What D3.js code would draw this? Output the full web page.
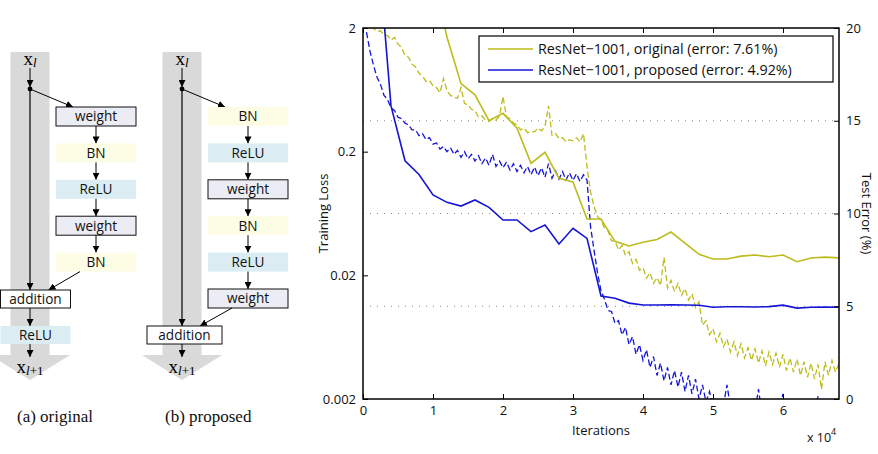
<!DOCTYPE html>
<html><head><meta charset="utf-8">
<script src="https://cdn.jsdelivr.net/npm/d3@7"></script>
<style>
html,body{margin:0;padding:0;background:#fff;}
svg{display:block;}
</style>
</head><body>
<svg id="c" width="878" height="454"></svg>
<script>
// ---------------- DATA ----------------
const seriesNames = ["ResNet\u22121001, original (error: 7.61%)", "ResNet\u22121001, proposed (error: 4.92%)"];
const xTicks = [0,1,2,3,4,5,6];
const xTickLabels = ["0","1","2","3","4","5","6"];
const lossTicks = [0.002,0.02,0.2,2];
const lossTickLabels = ["0.002","0.02","0.2","2"];
const errTicks = [0,5,10,15,20];
const errTickLabels = ["0","5","10","15","20"];

// test error (%) sampled every 0.2 x10^4 iterations
const testIters = [0.2,0.4,0.6,0.8,1.0,1.2,1.4,1.6,1.8,2.0,2.2,2.4,2.6,2.8,3.0,3.2,3.4,3.6,3.8,4.0,4.2,4.4,4.6,4.8,5.0,5.2,5.4,5.6,5.8,6.0,6.2,6.4,6.6,6.8];
const testErrOriginal = [55,40,32,27,23,19.5,17.0,16.4,15.0,15.4,14.6,12.7,13.3,11.9,11.7,9.7,9.7,8.5,8.25,8.45,8.6,9.0,8.4,7.8,7.55,7.55,7.7,7.76,7.67,7.76,7.4,7.6,7.65,7.61];
const testErrProposed = [25,15.8,12.84,12.1,11.0,10.6,10.4,10.73,10.33,9.65,9.65,9.02,9.38,8.36,9.2,8.66,5.55,5.43,5.17,5.07,5.07,5.08,5.07,5.05,4.95,4.97,4.97,4.96,4.98,5.06,4.9,4.95,4.96,4.95];

// training loss sampled every 0.05 x10^4 iterations starting at 0.05
const lossStart = 0.05, lossStep = 0.05;
const lossOriginal = [2.4,2.2,1.98,1.88,1.9,1.76,1.74,1.6,1.68,1.48,1.4,1.2,1.16,1.02,0.97,0.86,0.82,0.74,0.75,0.68,
0.66,0.6,0.78,0.62,0.57,0.55,0.54,0.66,0.49,0.48,0.44,0.43,0.38,0.39,0.36,0.35,0.37,0.36,0.39,0.56,
0.38,0.37,0.34,0.33,0.30,0.31,0.285,0.29,0.29,0.31,0.295,0.32,0.47,0.27,0.28,0.255,0.26,0.24,0.25,0.245,
0.26,0.24,0.28,0.15,0.095,0.072,0.06,0.056,0.048,0.046,0.038,0.038,0.032,0.035,0.029,0.031,0.025,0.027,0.022,0.023,
0.019,0.021,0.0172,0.0192,0.0165,0.028,0.0158,0.0182,0.0148,0.0172,0.0138,0.0156,0.0126,0.0142,0.011,0.0122,0.0079,0.0086,0.0066,0.0074,
0.0058,0.0068,0.0053,0.0061,0.0048,0.0058,0.0045,0.0056,0.0043,0.0052,0.0041,0.0051,0.0039,0.0049,0.0037,0.0048,0.0038,0.0047,0.0036,0.0046,
0.0034,0.0043,0.0033,0.0042,0.0031,0.004,0.003,0.0039,0.0029,0.0038,0.0024,0.004,0.0031,0.0041,0.0033,0.0039];
const lossProposed = [1.85,1.3,1.0,0.8,0.7,0.57,0.53,0.45,0.43,0.38,0.37,0.34,0.33,0.3,0.3,0.27,0.28,0.25,0.26,0.23,
0.235,0.21,0.22,0.2,0.215,0.19,0.205,0.18,0.2,0.175,0.19,0.168,0.185,0.16,0.178,0.155,0.19,0.152,0.168,0.148,
0.165,0.142,0.16,0.138,0.155,0.135,0.152,0.13,0.15,0.128,0.148,0.124,0.16,0.122,0.14,0.12,0.138,0.118,0.135,0.117,
0.133,0.115,0.13,0.118,0.05,0.032,0.021,0.015,0.0128,0.0104,0.0102,0.0082,0.0086,0.0066,0.0076,0.0055,0.0064,0.0046,0.0055,0.0041,
0.005,0.0036,0.0044,0.0031,0.0039,0.0028,0.0036,0.0026,0.0034,0.0025,0.0033,0.0023,0.0031,0.0022,0.0029,0.002,0.0026,0.0019,0.0023,0.0017,
0.0019,0.0017,0.0018,0.0026,0.0017,0.0016,0.0018,0.0016,0.0017,0.0015,0.0017,0.0016,0.0024,0.0015,0.0016,0.0015,0.0017,0.0015,0.0016,0.0022,
0.0015,0.0014,0.0016,0.0014,0.0015,0.0014,0.0016,0.0014,0.0015,0.0021,0.0014,0.0015,0.0014,0.0015,0.0014,0.0014];

// diagram labels
const blocksOriginal = ["weight","BN","ReLU","weight","BN"];
const blocksProposed = ["BN","ReLU","weight","BN","ReLU","weight"];

// ---------------- STYLE ----------------
const OLIVE = "#bcbc1c", BLUE = "#1414d6";
const blockFill = {weight:"#ececf4", BN:"#fdfde6", ReLU:"#dbedf3"};
const sans = "'Open Sans', 'DejaVu Sans', sans-serif";
const serif = "'Liberation Serif', 'DejaVu Serif', serif";

const svg = d3.select("#c");
const defs = svg.append("defs");
defs.append("marker").attr("id","ah").attr("viewBox","0 0 10 10").attr("refX",10).attr("refY",5)
  .attr("markerWidth",7).attr("markerHeight",7).attr("markerUnits","userSpaceOnUse").attr("orient","auto")
  .append("path").attr("d","M0,0 L10,5 L0,10 z").attr("fill","#000");

// ---------------- DIAGRAMS ----------------
function diagram(g, cx, boxX, blocks, addBox, caption, capX) {
  const barHalf = 19.5, wing = 40;
  g.append("path").attr("fill","#d9d9d9")
    .attr("d",`M${cx-barHalf},52 L${cx+barHalf},52 L${cx+barHalf},355 L${cx+wing},355 L${cx},380 L${cx-wing},355 L${cx-barHalf},355 Z`);
  const t = g.append("text").attr("x",cx).attr("y",65).attr("text-anchor","middle").attr("font-family",serif).attr("font-size",19);
  t.append("tspan").text("x");
  t.append("tspan").attr("font-size",13).attr("font-style","italic").attr("dy",2).text("l");
  g.append("line").attr("x1",cx).attr("y1",68).attr("x2",cx).attr("y2",87).attr("stroke","#000").attr("stroke-width",1).attr("marker-end","url(#ah)");
  g.append("circle").attr("cx",cx).attr("cy",89).attr("r",2.4).attr("fill","#000");
  g.append("line").attr("x1",cx).attr("y1",89).attr("x2",cx).attr("y2",addBox.y).attr("stroke","#000").attr("stroke-width",1.2).attr("marker-end","url(#ah)");
  g.append("line").attr("x1",cx).attr("y1",89).attr("x2",boxX+17).attr("y2",107).attr("stroke","#000").attr("stroke-width",1).attr("marker-end","url(#ah)");
  const bw = 80, bh = 19, pitch = 36.4;
  blocks.forEach((b,i)=>{
    const y0 = 107 + i*pitch;
    g.append("rect").attr("x",boxX).attr("y",y0).attr("width",bw).attr("height",bh)
      .attr("fill",blockFill[b]).attr("stroke", b==="weight" ? "#111" : "none").attr("stroke-width",1);
    g.append("text").attr("x",boxX+bw/2).attr("y",y0+bh/2+4.8).attr("text-anchor","middle")
      .attr("font-family",sans).attr("font-size",13.6).attr("fill","#111").text(b);
    if (i < blocks.length-1) {
      g.append("line").attr("x1",boxX+bw/2).attr("y1",y0+bh).attr("x2",boxX+bw/2).attr("y2",y0+pitch)
        .attr("stroke","#000").attr("stroke-width",1).attr("marker-end","url(#ah)");
    } else {
      g.append("line").attr("x1",boxX+24).attr("y1",y0+bh).attr("x2",addBox.x+addBox.w-22).attr("y2",addBox.y)
        .attr("stroke","#000").attr("stroke-width",1).attr("marker-end","url(#ah)");
    }
  });
  g.append("rect").attr("x",addBox.x).attr("y",addBox.y).attr("width",addBox.w).attr("height",18)
    .attr("fill","#fff").attr("stroke","#111").attr("stroke-width",1);
  g.append("text").attr("x",addBox.x+addBox.w/2).attr("y",addBox.y+13.8).attr("text-anchor","middle")
    .attr("font-family",sans).attr("font-size",13.6).attr("fill","#111").text("addition");
  let yb = addBox.y+18;
  if (addBox.relu) {
    g.append("line").attr("x1",cx).attr("y1",yb).attr("x2",cx).attr("y2",326).attr("stroke","#000").attr("stroke-width",1).attr("marker-end","url(#ah)");
    g.append("rect").attr("x",addBox.x).attr("y",326).attr("width",addBox.w).attr("height",18).attr("fill",blockFill.ReLU);
    g.append("text").attr("x",addBox.x+addBox.w/2).attr("y",326+13.8).attr("text-anchor","middle")
      .attr("font-family",sans).attr("font-size",13.6).attr("fill","#111").text("ReLU");
    yb = 344;
  }
  g.append("line").attr("x1",cx).attr("y1",yb).attr("x2",cx).attr("y2",357).attr("stroke","#000").attr("stroke-width",1).attr("marker-end","url(#ah)");
  const t2 = g.append("text").attr("x",cx).attr("y",373).attr("text-anchor","middle").attr("font-family",serif).attr("font-size",19);
  t2.append("tspan").text("x");
  t2.append("tspan").attr("font-size",13).attr("dy",2).attr("font-style","italic").text("l");
  t2.append("tspan").attr("font-size",13).text("+1");
  g.append("text").attr("x",capX).attr("y",422).attr("font-family",serif).attr("font-size",17).attr("fill","#111").text(caption);
}
diagram(svg.append("g"), 30, 56, blocksOriginal, {x:0.5,y:290,w:70,relu:true}, "(a) original", 17);
diagram(svg.append("g"), 182, 208, blocksProposed, {x:147,y:326,w:75,relu:false}, "(b) proposed", 165);

// ---------------- CHART ----------------
const L=363, R=839, T=28, B=399;
const x = d3.scaleLinear().domain([0,6.8]).range([L,R]);
const yL = d3.scaleLog().domain([0.002,2]).range([B,T]);
const yR = d3.scaleLinear().domain([0,20]).range([B,T]);

defs.append("clipPath").attr("id","plotclip").append("rect").attr("x",L).attr("y",T).attr("width",R-L).attr("height",B-T);

const chart = svg.append("g");
chart.append("g").selectAll("line").data(errTicks.filter(d=>d>0&&d<20)).join("line")
  .attr("x1",L).attr("x2",R).attr("y1",d=>yR(d)).attr("y2",d=>yR(d))
  .attr("stroke","#888").attr("stroke-width",1).attr("stroke-dasharray","1,6");

const plotG = chart.append("g").attr("clip-path","url(#plotclip)");
const lossData = arr => arr.map((v,i)=>[lossStart + i*lossStep, v]);
const lossLine = d3.line().x(d=>x(d[0])).y(d=>yL(d[1]));
const errLine = d3.line().x(d=>x(d[0])).y(d=>yR(d[1]));

plotG.append("path").attr("d",lossLine(lossData(lossOriginal))).attr("fill","none").attr("stroke",OLIVE).attr("stroke-width",1.3).attr("stroke-dasharray","6,3");
plotG.append("path").attr("d",lossLine(lossData(lossProposed))).attr("fill","none").attr("stroke",BLUE).attr("stroke-width",1.3).attr("stroke-dasharray","6,3");
plotG.append("path").attr("d",errLine(testIters.map((t,i)=>[t,testErrOriginal[i]]))).attr("fill","none").attr("stroke",OLIVE).attr("stroke-width",1.6);
plotG.append("path").attr("d",errLine(testIters.map((t,i)=>[t,testErrProposed[i]]))).attr("fill","none").attr("stroke",BLUE).attr("stroke-width",1.6);

function styleAxis(g){
  g.select(".domain").remove();
  g.selectAll(".tick line").attr("stroke","#000").attr("stroke-width",1);
  g.selectAll(".tick text").attr("font-family",sans).attr("font-size",13).attr("fill","#111");
}
chart.append("g").attr("transform",`translate(0,${B})`)
  .call(d3.axisBottom(x).tickValues(xTicks).tickFormat((d,i)=>xTickLabels[i]).tickSizeInner(-5).tickSizeOuter(0).tickPadding(7)).call(styleAxis);
chart.append("g").attr("transform",`translate(0,${T})`)
  .call(d3.axisTop(x).tickValues(xTicks).tickFormat("").tickSizeInner(-5).tickSizeOuter(0)).call(styleAxis);
chart.append("g").attr("transform",`translate(${L},0)`)
  .call(d3.axisLeft(yL).tickValues(lossTicks).tickFormat((d,i)=>lossTickLabels[i]).tickSizeInner(-5).tickSizeOuter(0).tickPadding(7)).call(styleAxis);
chart.append("g").attr("transform",`translate(${R},0)`)
  .call(d3.axisRight(yR).tickValues(errTicks).tickFormat((d,i)=>errTickLabels[i]).tickSizeInner(-5).tickSizeOuter(0).tickPadding(7)).call(styleAxis);

chart.append("rect").attr("x",L).attr("y",T).attr("width",R-L).attr("height",B-T).attr("fill","none").attr("stroke","#000").attr("stroke-width",1.5);

chart.append("text").attr("transform",`translate(328,${(T+B)/2}) rotate(-90)`).attr("text-anchor","middle")
  .attr("font-family",sans).attr("font-size",13).attr("fill","#111").text("Training Loss");
chart.append("text").attr("transform",`translate(862,${(T+B)/2}) rotate(90)`).attr("text-anchor","middle")
  .attr("font-family",sans).attr("font-size",13).attr("fill","#111").text("Test Error (%)");
chart.append("text").attr("x",(L+R)/2).attr("y",435).attr("text-anchor","middle")
  .attr("font-family",sans).attr("font-size",13).attr("fill","#111").text("Iterations");
const xe = chart.append("text").attr("x",807).attr("y",442).attr("font-family",sans).attr("font-size",12.5).attr("fill","#111");
xe.append("tspan").text("x 10");
xe.append("tspan").attr("font-size",9).attr("dy",-7).text("4");

const lg = chart.append("g");
lg.append("rect").attr("x",479).attr("y",36).attr("width",354).attr("height",46).attr("fill","#fff").attr("stroke","#000").attr("stroke-width",1.2);
[OLIVE, BLUE].forEach((c,i)=>{
  const yy = 49 + i*21;
  lg.append("line").attr("x1",488).attr("x2",533).attr("y1",yy).attr("y2",yy).attr("stroke",c).attr("stroke-width",1.6);
  lg.append("text").attr("x",538).attr("y",yy+5).attr("font-family",sans).attr("font-size",14.3).attr("fill","#111").text(seriesNames[i]);
});
</script>
</body></html>
